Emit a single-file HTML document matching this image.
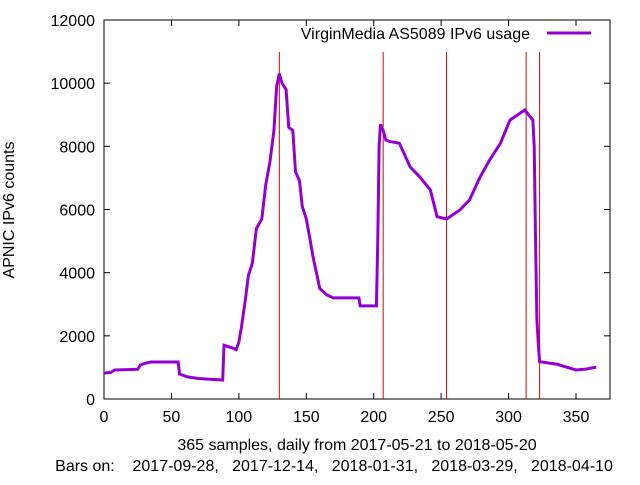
<!DOCTYPE html>
<html><head><meta charset="utf-8"><style>
body{margin:0;background:#fff}
svg text{font-family:"Liberation Sans",sans-serif;font-size:16px;fill:#000}
</style></head><body>
<svg id="chart" width="640" height="480">
<g id="axes"></g>
<g id="bars"></g>
<g id="series"></g>
<text x="14" y="210" text-anchor="middle" transform="rotate(-90 14 210)">APNIC IPv6 counts</text>
<text x="357" y="450" text-anchor="middle">365 samples, daily from 2017-05-21 to 2018-05-20</text>
<text x="334" y="471" text-anchor="middle" xml:space="preserve">Bars on:    2017-09-28,   2017-12-14,   2018-01-31,   2018-03-29,   2018-04-10</text>
<text x="530" y="39" text-anchor="end">VirginMedia AS5089 IPv6 usage</text>
<line x1="547" y1="33" x2="591" y2="33" stroke="#9400d3" stroke-width="3"/>
</svg>
<script>
const days=[0,5,8,25,27,32,35,55,56,62,70,80,88,89,95,98,100,102,105,107,110,113,117,120,123,126,128,130,132,135,137,140,142,145,147,150,153,155,160,165,170,175,189,190,202,203,204,205,207,209,212,219,227,234,242,247,254,264,271,279,286,294,301,312,318,319,320,321,322,323,336,350,358,364];
const values=[820,840,920,940,1080,1150,1170,1170,790,700,650,620,600,1700,1620,1560,1800,2300,3200,3900,4300,5400,5700,6800,7500,8500,9900,10300,10000,9800,8600,8500,7200,6900,6100,5700,5000,4500,3500,3300,3200,3200,3200,2950,2950,5000,8000,8700,8500,8200,8150,8100,7350,7040,6620,5770,5700,5990,6300,7040,7570,8100,8830,9150,8830,8000,5030,2500,1770,1180,1100,920,950,1000];
const barDays=[130,207,254,313,323];
const xTicks=[0,50,100,150,200,250,300,350];
const yTicks=[0,2000,4000,6000,8000,10000,12000];
const L=104,R=610,T=20,B=399,XMAX=375.2,YMAX=12000;
const X=v=>L+(v/XMAX)*(R-L), Y=v=>B-(v/YMAX)*(B-T);
const NS='http://www.w3.org/2000/svg';
function mk(t,a,p){const e=document.createElementNS(NS,t);for(const k in a)e.setAttribute(k,a[k]);p.appendChild(e);return e;}
const ax=document.getElementById('axes');
const frame=mk('rect',{x:L,y:T,width:R-L,height:B-T,fill:'none',stroke:'#000','stroke-width':1},ax);


xTicks.forEach(t=>{const x=X(t);
mk('line',{x1:x,y1:B,x2:x,y2:B-6,stroke:'#000'},ax);mk('line',{x1:x,y1:T,x2:x,y2:T+6,stroke:'#000'},ax);
const tx=mk('text',{x:x,y:B+23,'text-anchor':'middle'},ax);tx.textContent=t;

});
yTicks.forEach(t=>{const y=Y(t);
mk('line',{x1:L,y1:y,x2:L+6,y2:y,stroke:'#000'},ax);mk('line',{x1:R,y1:y,x2:R-6,y2:y,stroke:'#000'},ax);
const tx=mk('text',{x:L-9,y:y+6,'text-anchor':'end'},ax);tx.textContent=t;

});
const bg=document.getElementById('bars');
barDays.forEach(d=>{const l=mk('line',{x1:X(d),y1:52,x2:X(d),y2:B,stroke:'#e00000','stroke-width':1},bg);

});
let pts=[];for(let i=0;i<days.length;i++){pts.push(X(days[i])+','+Y(values[i]));}
pts.push(X(365)+','+Y(values[values.length-1]));
const pl=mk('polyline',{points:pts.join(' '),fill:'none',stroke:'#9400d3','stroke-width':3,'stroke-linejoin':'miter'},document.getElementById('series'));


</script>
</body></html>
